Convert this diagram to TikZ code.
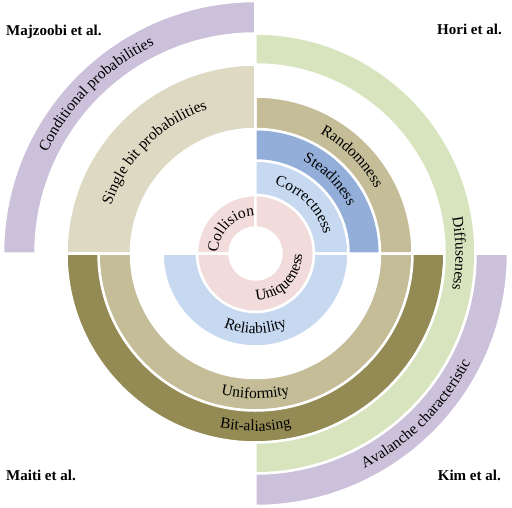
\documentclass[tikz,border=0pt]{standalone}
\usepackage{fontspec}
\setmainfont{Liberation Serif}
\usetikzlibrary{decorations.text}
\definecolor{pinkc}{HTML}{F2DCDB}
\definecolor{lblue}{HTML}{C6D9F1}
\definecolor{mblue}{HTML}{93AFD9}
\definecolor{tanc}{HTML}{C4BD97}
\definecolor{ltan}{HTML}{DDD9C3}
\definecolor{olivec}{HTML}{948A54}
\definecolor{greenc}{HTML}{D7E4BD}
\definecolor{purplec}{HTML}{CCC1DA}
\newcommand{\labfont}{\fontsize{15.5}{18}\selectfont}
\newcommand{\band}[5]{\fill[#5, draw=white, line width=2.5pt] (#3:#1) arc[start angle=#3, end angle=#4, radius=#1] -- (#4:#2) arc[start angle=#4, end angle=#3, radius=#2] -- cycle;}
\newcommand{\arclabel}[4]{\path[decorate, decoration={text along path, text={|\labfont|#4}, text align=center}] (#2:#1) arc[start angle=#2, end angle=#3, radius=#1];}
\tikzset{title/.style={font=\bfseries\fontsize{15}{18}\selectfont, inner sep=0pt}}
\begin{document}
\begin{tikzpicture}[x=1pt,y=1pt]
\useasboundingbox (-255.5,-253.5) rectangle (256.5,253.5);
% bands
\band{26}{58.5}{90}{180}{pinkc}
\band{26}{58.5}{-180}{90}{pinkc}
\band{58.5}{93}{0}{90}{lblue}
\band{58.5}{93}{180}{360}{lblue}
\band{93}{124.5}{0}{90}{mblue}
\band{124.5}{157}{0}{90}{tanc}
\band{124.5}{189}{90}{180}{ltan}
\band{124.5}{157}{180}{360}{tanc}
\band{157}{189}{180}{360}{olivec}
\band{189}{220}{-90}{90}{greenc}
\band{220}{252.5}{90}{180}{purplec}
\band{220}{252.5}{-90}{0}{purplec}
% labels
\arclabel{37.5}{180}{90}{Collision}
\arclabel{46.7}{-90}{0}{Uniqueness}
\arclabel{71}{90}{0}{Correctness}
\arclabel{80}{180}{360}{Reliability}
\arclabel{104}{90}{0}{Steadiness}
\arclabel{136}{90}{0}{Randomness}
\arclabel{152}{180}{90}{Single bit probabilities}
\arclabel{145}{180}{360}{Uniformity}
\arclabel{177.5}{180}{360}{Bit-aliasing}
\arclabel{200}{90}{-90}{Diffuseness}
\arclabel{231.5}{180}{90}{Conditional probabilities}
\arclabel{241}{-90}{0}{Avalanche characteristic}
% titles
\node[title, anchor=base west] (maj) at (-249.5,218.5) {Majzoobi et al.};
\node[title, anchor=base east] (hori) at (246.5,219.5) {Hori et al.};
\node[title, anchor=base west] (maiti) at (-249.5,-226.5) {Maiti et al.};
\node[title, anchor=base east] (kim) at (245.5,-226.5) {Kim et al.};
\end{tikzpicture}
\end{document}
